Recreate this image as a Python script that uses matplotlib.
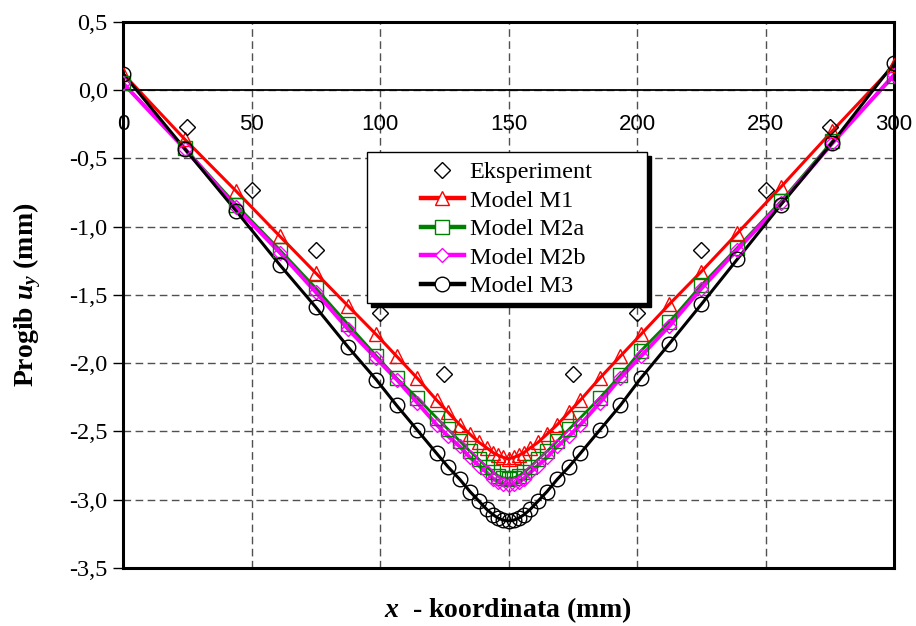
import matplotlib
matplotlib.use("Agg")
import matplotlib.pyplot as plt
from matplotlib.lines import Line2D
from matplotlib.patches import Rectangle
from matplotlib.ticker import FixedLocator, FixedFormatter

plt.rcParams['mathtext.fontset'] = 'custom'
plt.rcParams['mathtext.rm'] = 'Liberation Serif:bold'
plt.rcParams['mathtext.it'] = 'Liberation Serif:italic:bold'
plt.rcParams['mathtext.bf'] = 'Liberation Serif:bold'

# ---------------- data ----------------
x_exp = [25, 50, 75, 100, 125, 175, 200, 225, 250, 275]
y_exp = [-0.27, -0.73, -1.17, -1.63, -2.08, -2.08, -1.63, -1.17, -0.73, -0.27]

x_nodes = [0, 24, 44, 61, 75, 87.5, 98.5, 106.5, 114.5, 122, 126.5, 131, 135, 138.5,
           141.5, 144, 146, 148, 150, 152, 154, 156, 158.5, 161.5, 165, 169, 173.5,
           178, 185.5, 193.5, 201.5, 212.5, 225, 239, 256, 276, 300]

y_m1 = [0.12, -0.36, -0.74, -1.07, -1.34, -1.58, -1.79, -1.95, -2.11, -2.27, -2.36,
        -2.45, -2.52, -2.58, -2.62, -2.655, -2.675, -2.69, -2.70, -2.69, -2.675,
        -2.655, -2.62, -2.58, -2.52, -2.45, -2.36, -2.27, -2.11, -1.95, -1.79,
        -1.57, -1.33, -1.05, -0.71, -0.30, 0.18]

y_m2a = [0.05, -0.425, -0.84, -1.17, -1.45, -1.715, -1.945, -2.11, -2.255, -2.40,
         -2.485, -2.57, -2.645, -2.705, -2.76, -2.80, -2.825, -2.84, -2.845, -2.84,
         -2.825, -2.80, -2.76, -2.705, -2.645, -2.57, -2.485, -2.40, -2.255, -2.09,
         -1.91, -1.70, -1.43, -1.155, -0.815, -0.375, 0.10]

y_m2b = [0.05, -0.43, -0.86, -1.19, -1.48, -1.75, -1.965, -2.12, -2.29, -2.45, -2.535,
         -2.61, -2.69, -2.75, -2.80, -2.845, -2.87, -2.885, -2.89, -2.885, -2.87,
         -2.845, -2.80, -2.75, -2.69, -2.61, -2.535, -2.45, -2.29, -2.11, -1.95,
         -1.73, -1.455, -1.17, -0.83, -0.39, 0.11]

y_m3 = [0.12, -0.43, -0.885, -1.28, -1.59, -1.88, -2.12, -2.31, -2.49, -2.66, -2.76,
        -2.85, -2.94, -3.01, -3.07, -3.11, -3.135, -3.15, -3.155, -3.15, -3.135,
        -3.11, -3.07, -3.01, -2.94, -2.85, -2.76, -2.66, -2.49, -2.31, -2.11, -1.86,
        -1.57, -1.24, -0.84, -0.385, 0.195]

x_ticks = [0, 50, 100, 150, 200, 250, 300]
x_tick_labels = ['0', '50', '100', '150', '200', '250', '300']
y_ticks = [0.5, 0.0, -0.5, -1.0, -1.5, -2.0, -2.5, -3.0, -3.5]
y_tick_labels = ['0,5', '0,0', '-0,5', '-1,0', '-1,5', '-2,0', '-2,5', '-3,0', '-3,5']

labels = ['Eksperiment', 'Model M1', 'Model M2a', 'Model M2b', 'Model M3']

# ---------------- figure ----------------
W, H = 916, 626
fig = plt.figure(figsize=(W / 100, H / 100), dpi=100)
ax = fig.add_axes([123 / W, 1 - 568 / H, (894 - 123) / W, (568 - 21.7) / H])
ax.set_xlim(0, 300)
ax.set_ylim(-3.5, 0.5)

serif = 'Liberation Serif'
sans = 'Liberation Sans'

# grid
ax.xaxis.set_major_locator(FixedLocator(x_ticks))
ax.yaxis.set_major_locator(FixedLocator(y_ticks))
ax.grid(True, color='#505050', linestyle=(0, (5.5, 3.2)), linewidth=1.0, zorder=0)
ax.set_axisbelow(True)

# spines
for s in ['left', 'right', 'top']:
    ax.spines[s].set_linewidth(2.2)
    ax.spines[s].set_color('black')
ax.spines['bottom'].set_position(('data', 0))
ax.spines['bottom'].set_linewidth(1.3)
ax.axhline(-3.5, color='black', linewidth=2.2, clip_on=False, zorder=4)

ax.xaxis.set_major_formatter(FixedFormatter(x_tick_labels))
ax.yaxis.set_major_formatter(FixedFormatter(y_tick_labels))
ax.tick_params(axis='x', length=0, pad=17, labelsize=16)
ax.tick_params(axis='y', direction='out', length=7, width=1.0, pad=4, labelsize=17.5)
for t in ax.get_xticklabels():
    t.set_fontfamily(sans)
for t in ax.get_yticklabels():
    t.set_fontfamily(serif)

# series styles
styles = [
    dict(color='red', marker='^', ms=9.5, lw=2.2),
    dict(color='#008000', marker='s', ms=9.5, lw=2.0),
    dict(color='#FF00FF', marker='D', ms=7.2, lw=2.8),
    dict(color='black', marker='o', ms=10.5, lw=2.2),
]
series = [y_m1, y_m2a, y_m2b, y_m3]

# lines first
for ys, st in zip(series, styles):
    ax.plot(x_nodes, ys, color=st['color'], lw=st['lw'], zorder=2,
            solid_joinstyle='round')
# markers on top
for ys, st in zip(series, styles):
    ax.plot(x_nodes, ys, linestyle='none', marker=st['marker'], ms=st['ms'],
            mfc='none', mec=st['color'], mew=1.0, zorder=3)
ax.plot(x_exp, y_exp, linestyle='none', marker='D', ms=7.8, mfc='none',
        mec='black', mew=1.0, zorder=3)

# axis labels
ax.set_xlabel(r'$x$  - koordinata (mm)', fontsize=20, fontfamily=serif,
              fontweight='bold', labelpad=0)
ax.xaxis.set_label_coords(0.5, 0, transform=fig.transFigure)
ax.xaxis.label.set_position((508 / W, 1 - 610 / H))
ax.xaxis.label.set_verticalalignment('center')
ax.set_ylabel(r'Progib $u_{y}$ (mm)', fontsize=20, fontfamily=serif,
              fontweight='bold')
ax.yaxis.set_label_coords(27 / W, 1 - 295 / H, transform=fig.transFigure)
ax.yaxis.label.set_verticalalignment('center')

# legend box with shadow
sh = 4
shadow = Rectangle(((367 + sh) / W, 1 - (303 + sh) / H), (647 - 367) / W, (303 - 152) / H,
                   transform=fig.transFigure, facecolor='black', edgecolor='black',
                   zorder=5, clip_on=False)
box = Rectangle((367 / W, 1 - 303 / H), (647 - 367) / W, (303 - 152) / H,
                transform=fig.transFigure, facecolor='white', edgecolor='black',
                linewidth=1.0, zorder=5.5, clip_on=False)
ax.add_patch(shadow)
ax.add_patch(box)

handles = [Line2D([], [], linestyle='none', marker='D', ms=7.8, mfc='none',
                  mec='black', mew=1.0)]
for st in styles:
    handles.append(Line2D([], [], color=st['color'], lw=3.2, marker=st['marker'],
                          ms=st['ms'], mfc='white', mec=st['color'], mew=1.0))
leg = ax.legend(handles, labels, loc='upper left',
                bbox_to_anchor=(421 / W, 1 - 161 / H), bbox_transform=fig.transFigure,
                frameon=False, borderpad=0, borderaxespad=0, handlelength=1.75,
                handletextpad=0.25, labelspacing=0.27,
                prop={'family': serif, 'size': 17.5})
leg.set_zorder(6)

fig.savefig('out.png', dpi=100)
